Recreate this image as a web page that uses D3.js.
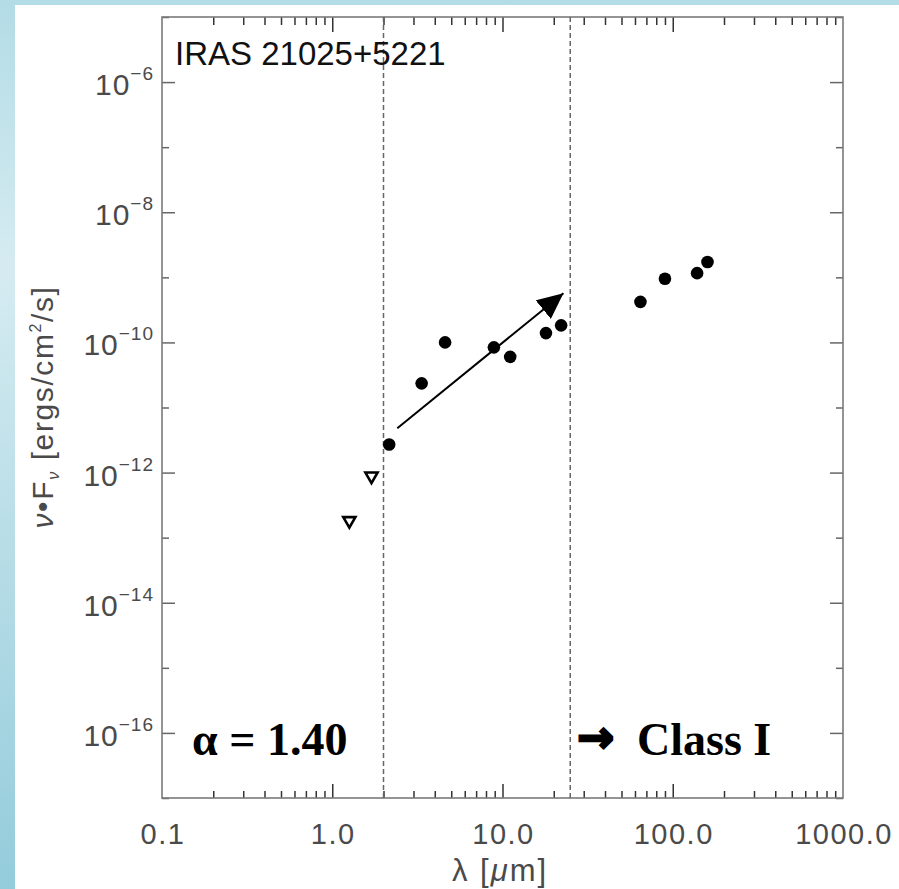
<!DOCTYPE html>
<html lang="en">
  <head>
    <meta charset="UTF-8" />
    <title>IRAS 21025+5221 SED</title>
    <style>
      html, body {
        margin: 0;
        padding: 0;
      }
      body {
        width: 899px;
        height: 889px;
        overflow: hidden;
      }
      .tick-label {
        font-family: 'Liberation Sans', Arial, sans-serif;
        fill: #4a4a4a;
      }
    </style>
  </head>
  <body>
    <div id="chart"></div>

    <script src="https://d3js.org/d3.v7.min.js"></script>
    <script>
      // detections (filled dots)
      const detLambda = [2.16, 3.35, 4.6, 8.9, 11.1, 18.0, 22.1, 64.6, 90, 139, 160];
      const detFlux = [2.7e-12, 2.35e-11, 1.0e-10, 8.4e-11, 6.0e-11, 1.39e-10, 1.83e-10, 4.2e-10, 9.5e-10, 1.16e-9, 1.72e-9];
      // upper limits (open triangles)
      const limLambda = [1.26, 1.70];
      const limFlux = [1.83e-13, 8.85e-13];
      // fit arrow: [lambda, flux]
      const arrowFrom = [2.41, 4.8e-12];
      const arrowTo = [22.8, 5.7e-10];
      // alpha range borders
      const fitRange = [2.0, 25.0];

      const xMajor = [1, 10, 100];
      const xLabels = ['0.1', '1.0', '10.0', '100.0', '1000.0'];
      const xLabelVals = [0.1, 1, 10, 100, 1000];
      const yMajorExp = [-6, -8, -10, -12, -14, -16];
      const yMinorExp = [-5, -7, -9, -11, -13, -15, -17];

      const W = 899, H = 889;
      const frame = { left: 162, right: 843, top: 17, bottom: 798 };

      const svg = d3
        .select('#chart')
        .append('svg')
        .attr('width', W)
        .attr('height', H);

      // background: blue gradient strip + white page
      const defs = svg.append('defs');
      const grad = defs
        .append('linearGradient')
        .attr('id', 'bg')
        .attr('x1', 0).attr('y1', 0).attr('x2', 0).attr('y2', 1);
      grad.append('stop').attr('offset', '0%').attr('stop-color', '#b3dce6');
      grad.append('stop').attr('offset', '30%').attr('stop-color', '#d5ebf1');
      grad.append('stop').attr('offset', '100%').attr('stop-color', '#94ccdb');
      svg.append('rect').attr('width', W).attr('height', H).attr('fill', 'url(#bg)');
      svg.append('rect').attr('x', 15).attr('y', 5).attr('width', W - 15).attr('height', H - 5).attr('fill', '#fff');

      const x = d3.scaleLog().domain([0.1, 1000]).range([frame.left, frame.right]);
      const y = d3.scaleLog().domain([1e-17, 1e-5]).range([frame.bottom, frame.top]);

      const xMinor = [];
      [0.1, 1, 10, 100].forEach((d) => {
        for (let k = 2; k <= 9; k++) xMinor.push(d * k);
      });
      const yMajor = yMajorExp.map((e) => Math.pow(10, e));
      const yMinor = yMinorExp.map((e) => Math.pow(10, e));

      function tickAxis(axisFn, scale, values, size, transform, color) {
        const g = svg
          .append('g')
          .attr('transform', transform)
          .call(axisFn(scale).tickValues(values).tickSize(size).tickFormat(''));
        g.select('.domain').remove();
        g.selectAll('line').attr('stroke', color).attr('stroke-width', 1.5);
        g.selectAll('text').remove();
      }

      // x ticks, bottom and top (inward)
      tickAxis(d3.axisBottom, x, xMajor, -14, `translate(0,${frame.bottom})`, '#333');
      tickAxis(d3.axisBottom, x, xMinor, -7, `translate(0,${frame.bottom})`, '#333');
      tickAxis(d3.axisTop, x, xMajor, -15, `translate(0,${frame.top})`, '#333');
      tickAxis(d3.axisTop, x, xMinor, -8, `translate(0,${frame.top})`, '#333');
      // y ticks, left and right
      tickAxis(d3.axisLeft, y, yMajor, -13, `translate(${frame.left},0)`, '#666');
      tickAxis(d3.axisLeft, y, yMinor, -7, `translate(${frame.left},0)`, '#666');
      tickAxis(d3.axisRight, y, yMajor, -13, `translate(${frame.right},0)`, '#666');
      tickAxis(d3.axisRight, y, yMinor, -7, `translate(${frame.right},0)`, '#666');

      // frame
      svg
        .append('rect')
        .attr('x', frame.left)
        .attr('y', frame.top)
        .attr('width', frame.right - frame.left)
        .attr('height', frame.bottom - frame.top)
        .attr('fill', 'none')
        .attr('stroke', '#7a7a7a')
        .attr('stroke-width', 1.6);

      // x tick labels
      svg
        .selectAll('.xlab')
        .data(xLabelVals)
        .enter()
        .append('text')
        .attr('class', 'tick-label')
        .attr('x', (d) => x(d) + 1)
        .attr('y', 844)
        .attr('text-anchor', 'middle')
        .style('font-size', '29px')
        .style('letter-spacing', '1.5px')
        .text((d, i) => xLabels[i]);

      // y tick labels 10^n
      const ylab = svg
        .selectAll('.ylab')
        .data(yMajorExp)
        .enter()
        .append('text')
        .attr('class', 'tick-label')
        .attr('x', 154)
        .attr('y', (d) => y(Math.pow(10, d)) + 13)
        .attr('text-anchor', 'end')
        .style('font-size', '30px')
        .style('letter-spacing', '1px');
      ylab.append('tspan').text('10');
      ylab
        .append('tspan')
        .attr('dy', -15)
        .style('font-size', '19px')
        .text((d) => '\u2212' + Math.abs(d));

      // axis titles
      svg
        .append('text')
        .attr('class', 'tick-label')
        .attr('x', 500)
        .attr('y', 881)
        .attr('text-anchor', 'middle')
        .style('font-size', '31px')
        .style('letter-spacing', '2px')
        .html('\u03bb  [<tspan font-style="italic">\u03bc</tspan>m]');

      const ytitle = svg
        .append('text')
        .attr('class', 'tick-label')
        .attr('transform', 'translate(53,407) rotate(-90)')
        .attr('text-anchor', 'middle')
        .style('font-size', '30px')
        .style('letter-spacing', '1.6px');
      ytitle.append('tspan').attr('font-style', 'italic').text('\u03bd');
      ytitle.append('tspan').text('\u2022F');
      ytitle.append('tspan').attr('dy', 6).style('font-size', '16px').attr('font-style', 'italic').text('\u03bd');
      ytitle.append('tspan').attr('dy', -6).text('  [ergs/cm');
      ytitle.append('tspan').attr('dy', -12).style('font-size', '16px').text('2');
      ytitle.append('tspan').attr('dy', 12).text('/s]');

      // dashed range lines
      svg
        .selectAll('.vline')
        .data(fitRange)
        .enter()
        .append('line')
        .attr('x1', (d) => x(d))
        .attr('x2', (d) => x(d))
        .attr('y1', frame.top)
        .attr('y2', frame.bottom)
        .attr('stroke', '#666')
        .attr('stroke-width', 1.5)
        .attr('stroke-dasharray', '5,3');

      // fit arrow
      defs
        .append('marker')
        .attr('id', 'head')
        .attr('viewBox', '0 0 26 24')
        .attr('refX', 26)
        .attr('refY', 12)
        .attr('markerWidth', 26)
        .attr('markerHeight', 24)
        .attr('markerUnits', 'userSpaceOnUse')
        .attr('orient', 'auto')
        .append('path')
        .attr('d', 'M0,0 L26,12 L0,24 Z')
        .attr('fill', '#000');
      svg
        .append('line')
        .attr('x1', x(arrowFrom[0]))
        .attr('y1', y(arrowFrom[1]))
        .attr('x2', x(arrowTo[0]))
        .attr('y2', y(arrowTo[1]))
        .attr('stroke', '#000')
        .attr('stroke-width', 2)
        .attr('marker-end', 'url(#head)');

      // detections
      svg
        .selectAll('.dot')
        .data(detLambda)
        .enter()
        .append('circle')
        .attr('cx', (d) => x(d))
        .attr('cy', (d, i) => y(detFlux[i]))
        .attr('r', 6.3)
        .attr('fill', '#000');

      // upper limits
      const tri = d3.symbol(d3.symbolTriangle, 64);
      svg
        .selectAll('.lim')
        .data(limLambda)
        .enter()
        .append('path')
        .attr('d', tri)
        .attr('transform', (d, i) => `translate(${x(d)},${y(limFlux[i])}) rotate(180)`)
        .attr('fill', 'none')
        .attr('stroke', '#000')
        .attr('stroke-width', 2.6);

      // annotations
      svg
        .append('text')
        .attr('x', 175)
        .attr('y', 65)
        .style('font-family', "'Liberation Sans', Arial, sans-serif")
        .style('font-size', '33px')
        .attr('fill', '#111')
        .text('IRAS 21025+5221');

      svg
        .append('text')
        .attr('x', 192)
        .attr('y', 755)
        .style('font-family', "'Liberation Serif', 'Times New Roman', serif")
        .style('font-weight', 'bold')
        .style('font-size', '46px')
        .text('\u03b1 = 1.40');

      svg
        .append('text')
        .attr('x', 577)
        .attr('y', 752)
        .style('font-family', "'DejaVu Sans', sans-serif")
        .style('font-weight', 'bold')
        .style('font-size', '44px')
        .attr('fill', '#000')
        .attr('stroke', '#000')
        .attr('stroke-width', 2.5)
        .text('\u2192');

      svg
        .append('text')
        .attr('x', 637)
        .attr('y', 755)
        .style('font-family', "'Liberation Serif', 'Times New Roman', serif")
        .style('font-weight', 'bold')
        .style('font-size', '46px')
        .text('Class I');
    </script>
  </body>
</html>
